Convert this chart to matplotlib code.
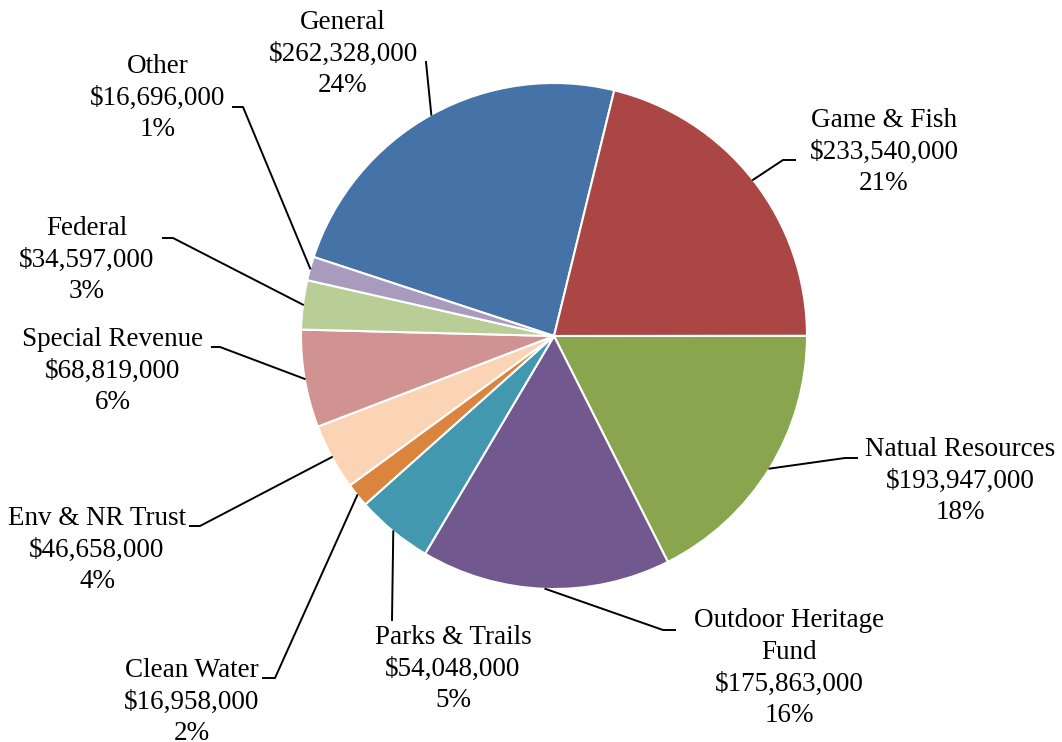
import matplotlib.pyplot as plt
import numpy as np

# Funding sources (labels show full dollar amounts)
sources = ["General", "Game & Fish", "Natual Resources", "Outdoor Heritage\nFund",
           "Parks & Trails", "Clean Water", "Env & NR Trust", "Special Revenue",
           "Federal", "Other"]
amounts = [262328000, 233540000, 193947000, 175863000, 54048000,
           16958000, 46658000, 68819000, 34597000, 16696000]
percents = ["24%", "21%", "18%", "16%", "5%", "2%", "4%", "6%", "3%", "1%"]
colors = ["#4573A7", "#AA4644", "#89A54E", "#71588F", "#4198AF",
          "#DB843D", "#FAD4B5", "#D09392", "#B9CD96", "#A99BBD"]

# Label layout in picture pixels (x, y from top): text centre, line elbow, line end
H = 742
text_pos = [(343, 54), (884, 152), (960, 481), (789, 668), (453, 669),
            (192, 702), (97, 550), (113, 371), (87, 260), (158, 98)]
elbows = [(426, 62), (783, 160), (845, 458), (663, 630), (392, 620),
          (275, 678), (200, 526), (220, 347), (173, 238), (243, 107)]
ends = [(426, 62), (795, 160), (857, 458), (675, 630), (392, 620),
        (263, 678), (190, 526), (212, 347), (163, 238), (233, 107)]

plt.rcParams['font.family'] = ['Liberation Serif', 'DejaVu Serif']

fig = plt.figure(figsize=(10.62, 7.42), dpi=100)
ax = fig.add_axes([0, 0, 1, 1])

cx, cy, r = 554, H - 336, 253
wedges, _ = ax.pie(amounts, colors=colors, startangle=161.8, counterclock=False,
                   center=(cx, cy), radius=r,
                   wedgeprops=dict(edgecolor="white", linewidth=1.5))
ax.set_xlim(0, 1062)
ax.set_ylim(0, H)
ax.set_aspect("equal")
ax.axis("off")

for w, name, amt, pct, tp, el, en in zip(wedges, sources, amounts, percents,
                                         text_pos, elbows, ends):
    mid = np.deg2rad((w.theta1 + w.theta2) / 2)
    sx, sy = cx + r * np.cos(mid), cy + r * np.sin(mid)
    ax.plot([sx, el[0], en[0]], [sy, H - el[1], H - en[1]], color="black", lw=1.4)
    ax.text(tp[0], H - tp[1], f"{name}\n${amt:,}\n{pct}", ha="center", va="center",
            fontsize=19.5, linespacing=1.36, color="black")

fig.savefig("out.png", dpi=100)
